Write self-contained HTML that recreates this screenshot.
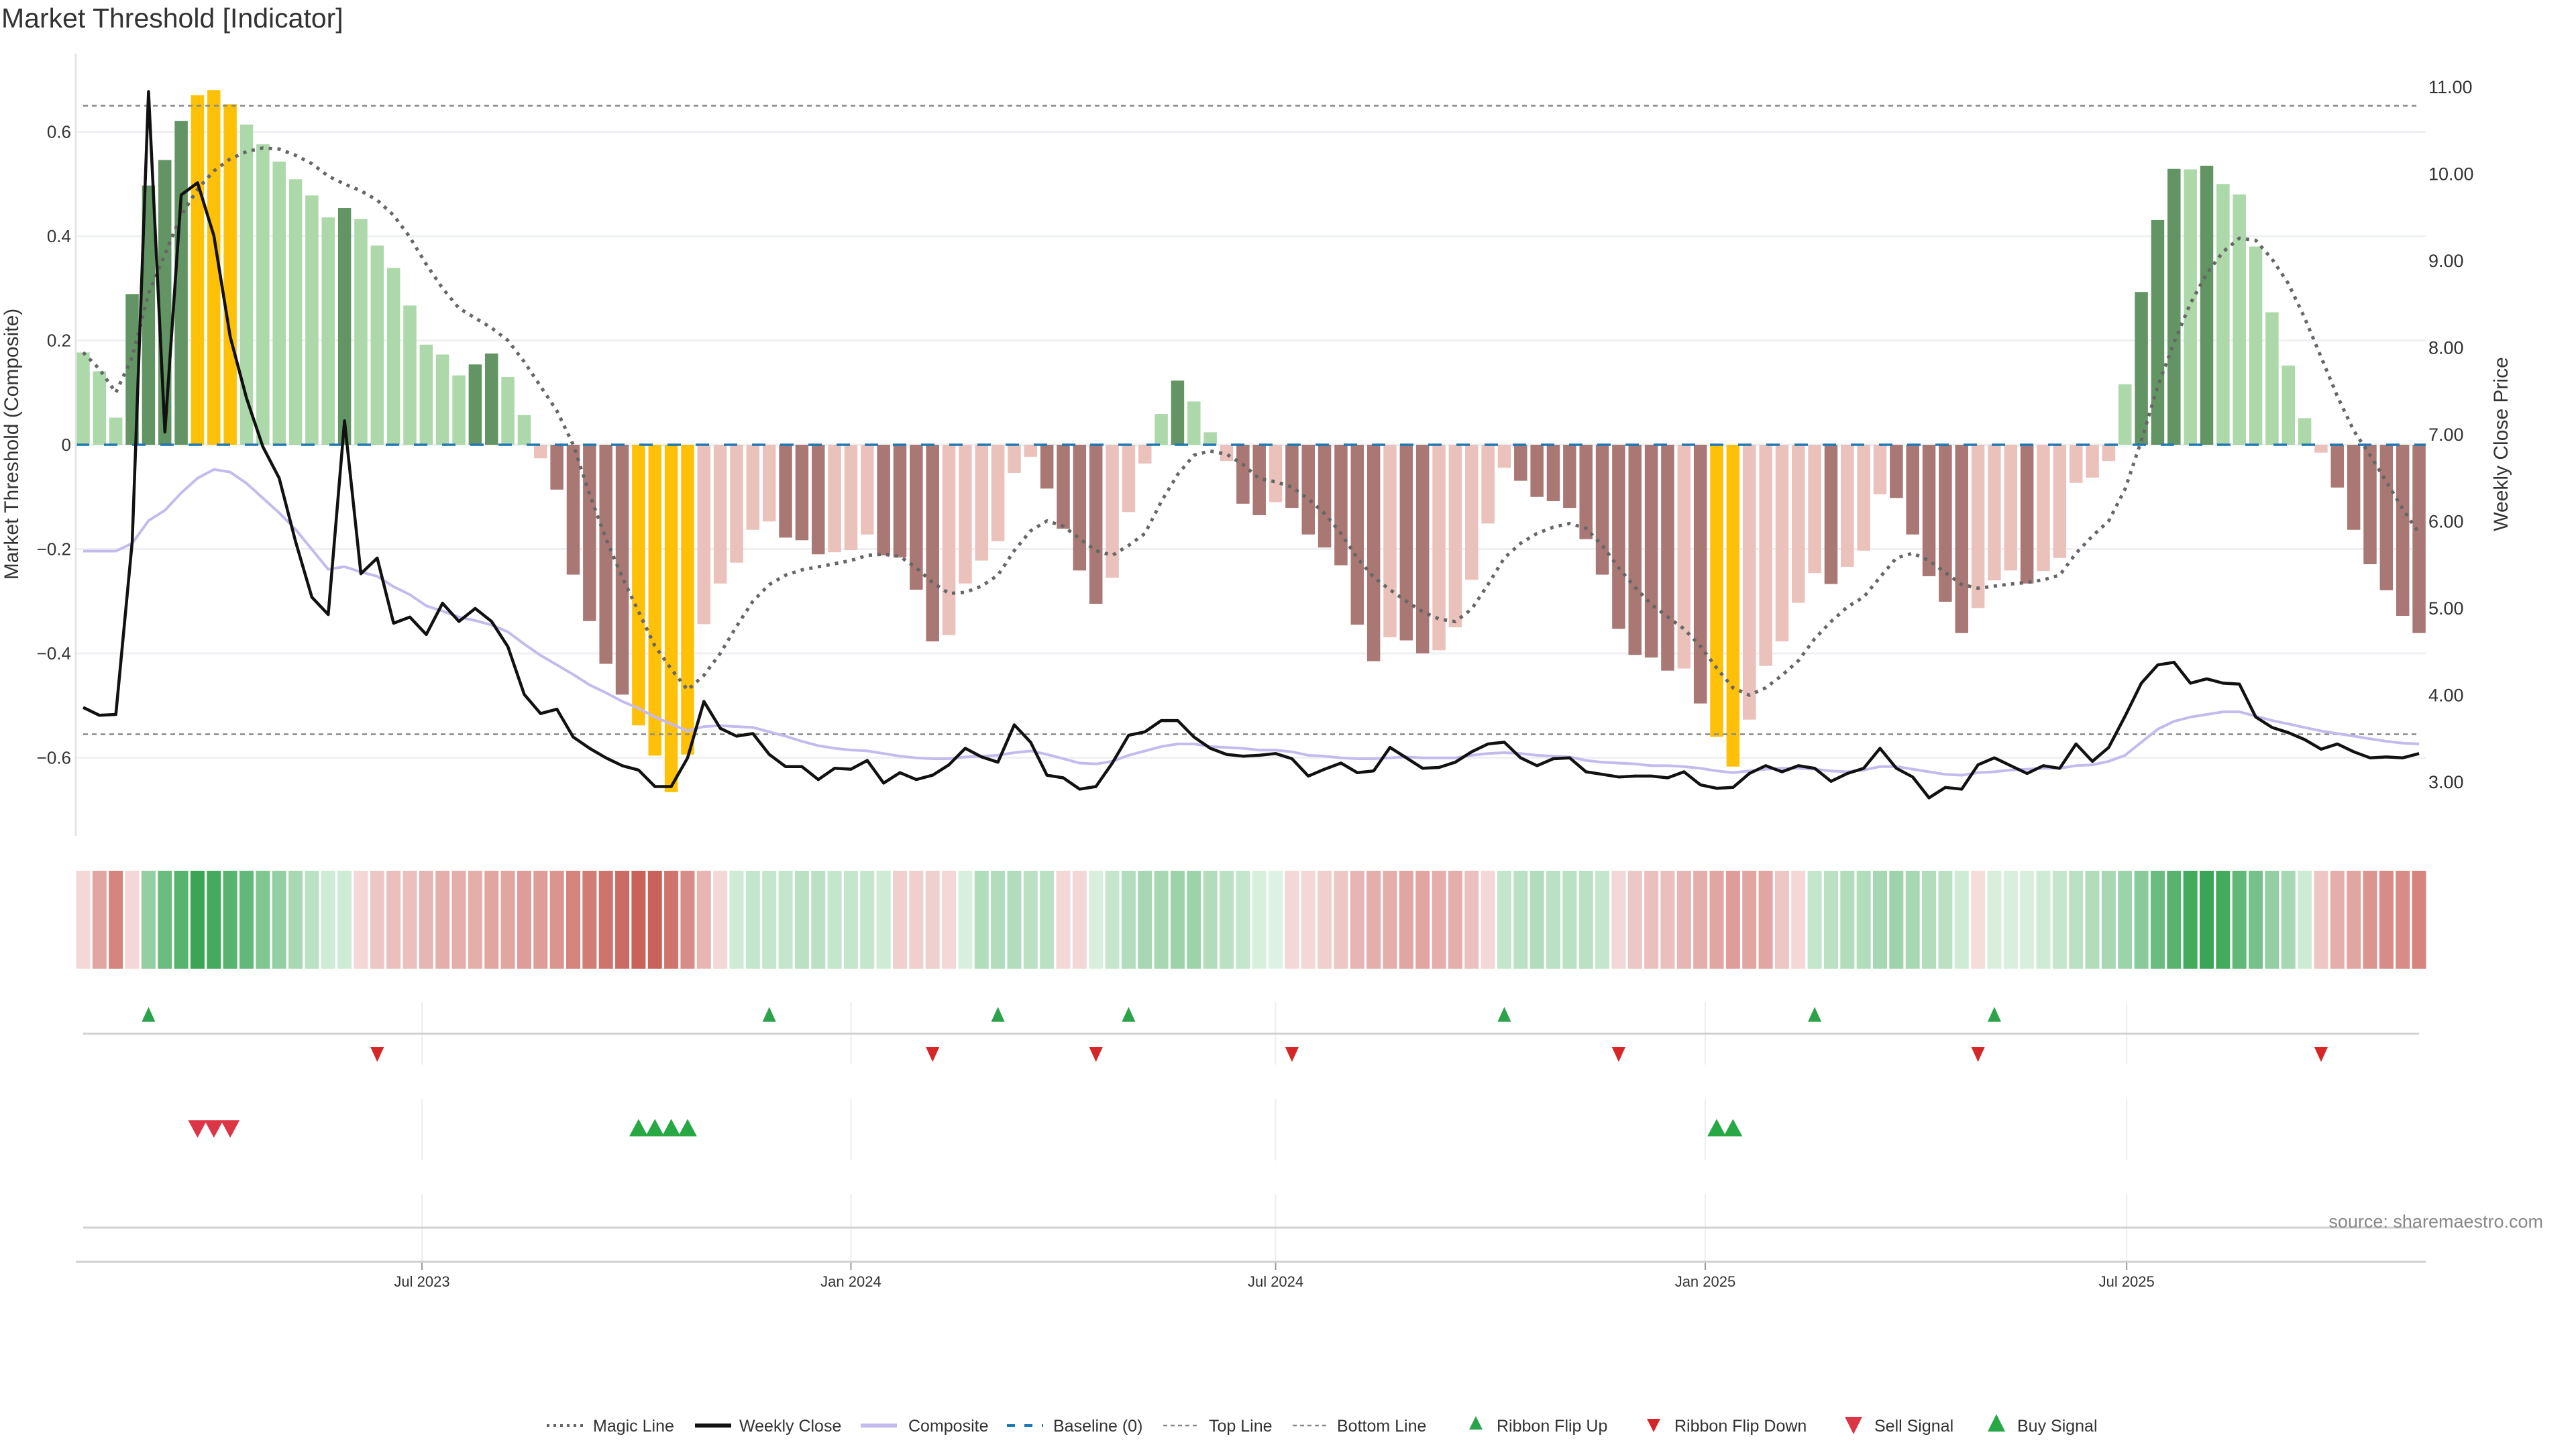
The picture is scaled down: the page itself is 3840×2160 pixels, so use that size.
<!DOCTYPE html>
<html><head><meta charset="utf-8"><style>
html,body{margin:0;padding:0;background:#fff;}
svg{display:block;font-family:"Liberation Sans","DejaVu Sans",sans-serif;}
</style></head><body>
<svg id="chart" width="3840" height="2160" viewBox="0 0 3840 2160" xmlns="http://www.w3.org/2000/svg">
<text x="2" y="41" font-size="41" fill="#333">Market Threshold [Indicator]</text>
<g id="grid"></g><g id="bars"></g><g id="lines"></g><g id="heat"></g><g id="signals"></g><g id="axes"></g><g id="legend"></g>
</svg>
<script>
const composite=[0.177,0.141,0.052,0.289,0.497,0.546,0.621,0.670,0.680,0.653,0.614,0.576,0.543,0.509,0.478,0.436,0.454,0.433,0.382,0.339,0.267,0.192,0.173,0.133,0.154,0.175,0.130,0.057,
-0.026,-0.086,-0.249,-0.338,-0.420,-0.479,-0.538,-0.596,-0.666,-0.594,-0.344,-0.266,-0.226,-0.163,-0.147,-0.178,-0.183,-0.210,-0.206,-0.202,-0.172,-0.212,-0.216,-0.278,-0.377,-0.365,-0.266,-0.222,-0.185,-0.054,-0.023,-0.084,-0.161,-0.241,-0.305,-0.255,-0.129,-0.036,0.059,0.123,0.083,0.024,-0.031,-0.113,-0.135,
-0.110,-0.121,-0.172,-0.197,-0.231,-0.345,-0.415,-0.369,-0.375,-0.400,-0.394,-0.350,-0.259,-0.151,-0.044,-0.069,-0.100,-0.108,-0.121,-0.181,-0.249,-0.353,-0.403,-0.408,-0.433,-0.429,-0.496,-0.560,-0.617,-0.527,-0.424,-0.377,-0.303,-0.246,-0.267,-0.234,
-0.203,-0.095,-0.102,-0.172,-0.252,-0.301,-0.361,-0.313,-0.260,-0.241,-0.266,-0.242,-0.217,-0.073,-0.063,-0.031,0.116,0.293,0.431,0.529,0.528,0.535,0.500,0.480,0.380,0.254,0.152,0.051,-0.015,-0.082,-0.163,-0.229,-0.279,-0.328,-0.361];
// 0 = light, 1 = strong, 2 = extreme
const strength=[0,0,0,1,1,1,1,2,2,2,0,0,0,0,0,0,1,0,0,0,0,0,0,0,1,1,0,0,
0,1,1,1,1,1,2,2,2,2,0,0,0,0,0,1,1,1,0,0,0,1,1,1,1,0,0,0,0,0,0,1,1,1,1,0,0,0,0,1,0,0,0,1,1,
0,1,1,1,1,1,1,0,1,1,0,0,0,0,0,1,1,1,1,1,1,1,1,1,1,0,1,2,2,0,0,0,0,0,1,0,
0,0,1,1,1,1,1,0,0,0,1,0,0,0,0,0,0,1,1,1,0,1,0,0,0,0,0,0,0,1,1,1,1,1,1];
const weeklyClose=[3.86,3.77,3.78,5.77,10.95,7.03,9.76,9.90,9.29,8.13,7.42,6.86,6.50,5.77,5.13,4.93,7.16,5.40,5.58,4.83,4.90,4.70,5.06,4.85,5.00,4.85,4.56,4.01,3.79,3.84,3.52,3.39,3.28,3.19,3.14,2.95,2.95,
3.28,3.93,3.62,3.53,3.56,3.32,3.18,3.18,3.03,3.16,3.15,3.25,2.99,3.11,3.03,3.08,3.20,3.39,3.29,3.23,3.66,3.46,3.08,3.05,2.92,2.95,3.22,3.54,3.58,3.71,3.71,3.52,3.39,3.32,3.30,3.31,
3.33,3.27,3.07,3.15,3.22,3.11,3.13,3.40,3.28,3.16,3.17,3.23,3.35,3.44,3.46,3.28,3.19,3.27,3.28,3.12,3.09,3.06,3.07,3.07,3.05,3.12,2.97,2.93,2.94,3.10,3.19,3.12,3.19,3.16,3.01,3.10,
3.16,3.39,3.16,3.06,2.82,2.94,2.92,3.20,3.28,3.19,3.10,3.19,3.16,3.44,3.24,3.40,3.76,4.14,4.35,4.38,4.14,4.19,4.14,4.13,3.75,3.63,3.57,3.49,3.38,3.44,3.35,3.28,3.29,3.28,3.33];
const compositeLine=[5.66,5.66,5.66,5.75,6.01,6.13,6.33,6.50,6.60,6.57,6.44,6.27,6.10,5.91,5.68,5.45,5.48,5.42,5.37,5.25,5.16,5.03,4.97,4.90,4.86,4.81,4.73,4.59,4.46,4.35,4.24,4.12,4.03,3.93,3.85,3.75,3.67,
3.59,3.64,3.65,3.64,3.63,3.58,3.53,3.47,3.42,3.39,3.37,3.36,3.33,3.30,3.28,3.27,3.27,3.29,3.30,3.31,3.34,3.36,3.32,3.27,3.22,3.21,3.24,3.31,3.36,3.41,3.44,3.44,3.41,3.40,3.39,3.37,
3.37,3.35,3.31,3.30,3.28,3.27,3.27,3.28,3.29,3.28,3.28,3.28,3.31,3.33,3.34,3.33,3.31,3.30,3.29,3.25,3.23,3.22,3.21,3.19,3.19,3.18,3.16,3.13,3.11,3.13,3.15,3.16,3.16,3.15,3.13,3.12,
3.14,3.18,3.18,3.15,3.12,3.09,3.08,3.11,3.12,3.14,3.15,3.16,3.16,3.19,3.20,3.24,3.31,3.46,3.61,3.70,3.75,3.78,3.81,3.81,3.76,3.71,3.67,3.63,3.59,3.56,3.53,3.50,3.47,3.45,3.44];
const magicLine=[0.177,0.145,0.10,0.168,0.29,0.365,0.44,0.49,0.525,0.548,0.562,0.569,0.567,0.555,0.539,0.515,0.50,0.487,0.469,0.44,0.398,0.346,0.30,0.262,0.243,0.224,0.20,0.159,0.112,0.065,0.0,-0.095,-0.18,-0.254,-0.32,-0.386,-0.43,
-0.47,-0.442,-0.40,-0.348,-0.30,-0.268,-0.25,-0.24,-0.234,-0.228,-0.222,-0.212,-0.21,-0.214,-0.236,-0.264,-0.285,-0.283,-0.271,-0.25,-0.203,-0.165,-0.146,-0.156,-0.18,-0.203,-0.212,-0.193,-0.17,-0.109,-0.057,-0.02,-0.012,-0.018,-0.038,-0.065,
-0.071,-0.081,-0.104,-0.132,-0.17,-0.217,-0.254,-0.278,-0.30,-0.32,-0.334,-0.339,-0.315,-0.268,-0.217,-0.189,-0.17,-0.158,-0.151,-0.16,-0.193,-0.236,-0.273,-0.306,-0.33,-0.353,-0.386,-0.428,-0.466,-0.48,-0.466,-0.442,-0.414,-0.372,-0.339,-0.311,
-0.292,-0.254,-0.217,-0.208,-0.222,-0.245,-0.268,-0.275,-0.271,-0.267,-0.264,-0.259,-0.25,-0.208,-0.175,-0.146,-0.085,0.008,0.112,0.196,0.271,0.328,0.37,0.396,0.392,0.356,0.309,0.243,0.168,0.093,0.027,-0.02,-0.071,-0.123,-0.17];
const ribbon=[-0.15,-0.45,-0.65,-0.15,0.5,0.7,0.8,0.95,0.9,0.8,0.75,0.6,0.5,0.4,0.3,0.2,0.2,-0.15,-0.25,-0.3,-0.3,-0.35,-0.4,-0.4,-0.4,-0.45,-0.45,-0.5,-0.5,-0.55,-0.65,-0.7,-0.75,-0.8,-0.85,-0.85,-0.75,-0.6,-0.35,-0.15,0.2,0.25,0.25,0.25,0.3,0.3,0.25,0.25,0.25,0.2,-0.2,-0.2,-0.2,-0.15,0.15,0.35,0.35,0.35,0.3,0.3,-0.15,-0.15,0.15,0.25,0.35,0.4,0.4,0.45,0.45,0.35,0.3,
0.25,0.15,0.12,-0.15,-0.15,-0.2,-0.25,-0.35,-0.4,-0.4,-0.45,-0.45,-0.4,-0.4,-0.3,-0.15,0.25,0.3,0.35,0.3,0.3,0.3,0.25,-0.15,-0.25,-0.3,-0.3,-0.35,-0.4,-0.45,-0.5,-0.45,-0.45,-0.25,-0.15,0.25,0.3,0.35,0.35,0.4,0.45,0.4,0.35,0.3,0.2,-0.12,0.15,0.15,0.15,0.2,0.25,0.3,0.35,0.4,0.45,0.55,0.7,0.8,0.9,0.95,0.9,0.75,0.65,0.5,0.4,0.2,-0.25,-0.4,-0.45,-0.55,-0.6,-0.6,-0.65];
const flipUp=[4,42,56,64,87,106,117];
const flipDown=[18,52,62,74,94,116,137];
const sellSignals=[7,8,9];
const buySignals=[34,35,36,37,100,101];
const topLine=0.65, bottomLine=-0.555;
const leftTicks=[0.6,0.4,0.2,0,-0.2,-0.4,-0.6];
const rightTicks=[11,10,9,8,7,6,5,4,3];
const dateTickLabels=["Jul 2023","Jan 2024","Jul 2024","Jan 2025","Jul 2025"];
const dateTickWeeks=[20.74,47.0,73.0,99.3,125.1];

const NS="http://www.w3.org/2000/svg";
const X0=124, DX=24.35, PL=113, PR=3616;
const xs=i=>X0+i*DX;
const yc=v=>663-v*777.5;
const yp=p=>648+(7-p)*129.5;
function el(tag,attrs,parent,text){const e=document.createElementNS(NS,tag);for(const k in attrs)e.setAttribute(k,attrs[k]);if(text!==undefined)e.textContent=text;document.getElementById(parent).appendChild(e);return e;}
function mix(a,b,t){const p=h=>[1,3,5].map(j=>parseInt(h.substr(j,2),16));const A=p(a),B=p(b);return 'rgb('+A.map((v,k)=>Math.round(v+(B[k]-v)*t)).join(',')+')';}

leftTicks.forEach(t=>{
  const g=el('line',{x1:PL,x2:PR,y1:yc(t),y2:yc(t),stroke:'#eef0f3','stroke-width':3},'grid');
  
  
  const l=el('text',{x:106,y:yc(t)+9,'font-size':26,'text-anchor':'end',fill:'#333'},'axes',t===0?'0':(t<0?'\u2212':'')+Math.abs(t).toFixed(1));
  
  
});
rightTicks.forEach(t=>{
  const l=el('text',{x:3620,y:yp(t)+9,'font-size':27,fill:'#333'},'axes',t.toFixed(2));
  
  
});
const la=el('line',{x1:PL,x2:PL,y1:80,y2:1246,stroke:'#e4e4e4','stroke-width':3},'axes');


const lt=el('text',{x:0,y:0,'font-size':30,fill:'#333','text-anchor':'middle',transform:'translate(27,662) rotate(-90)'},'axes','Market Threshold (Composite)');


const rt=el('text',{x:0,y:0,'font-size':30,fill:'#333','text-anchor':'middle',transform:'translate(3738,662) rotate(-90)'},'axes','Weekly Close Price');



const pos=['#acd8aa','#629563','#ffc107'], neg=['#ebc1bc','#a97874','#ffc107'];
composite.forEach((v,i)=>{
  const y0=yc(0), y1=yc(v);
  const b=el('rect',{x:xs(i)-9.75,width:19.5,y:Math.min(y0,y1),height:Math.max(1,Math.abs(y1-y0)),fill:(v>=0?pos:neg)[strength[i]]},'bars');
  
  
});
const bl=el('line',{x1:PL,x2:PR,y1:yc(0),y2:yc(0),stroke:'#1f77b4','stroke-width':3.5,'stroke-dasharray':'20 22'},'lines');


const tl=el('line',{x1:124,x2:3606,y1:yc(topLine),y2:yc(topLine),stroke:'#888','stroke-width':2.5,'stroke-dasharray':'7 6'},'lines');


const btl=el('line',{x1:124,x2:3606,y1:yc(bottomLine),y2:yc(bottomLine),stroke:'#888','stroke-width':2.5,'stroke-dasharray':'7 6'},'lines');


const pts=(arr,f)=>arr.map((v,i)=>xs(i).toFixed(1)+','+f(v).toFixed(1)).join(' ');
const cl=el('polyline',{points:pts(compositeLine,yp),fill:'none',stroke:'#c3bbee','stroke-width':4},'lines');


const ml=el('polyline',{points:pts(magicLine,yc),fill:'none',stroke:'#666','stroke-width':5,'stroke-dasharray':'5 8'},'lines');


const wl=el('polyline',{points:pts(weeklyClose,yp),fill:'none',stroke:'#111','stroke-width':4.5,'stroke-linejoin':'round'},'lines');



ribbon.forEach((v,i)=>{
  const t=Math.min(1,Math.abs(v));
  const c=v>=0?mix('#e2f4e6','#3aa556',(t-0.1)/0.85):mix('#f6e0e0','#c65a52',(t-0.1)/0.8);
  const r=el('rect',{x:xs(i)-10.5,width:21,y:1298,height:146,fill:c},'heat');
  
  
});

dateTickWeeks.forEach((w,k)=>{
  [[1494,1587],[1638,1730],[1780,1881]].forEach(s=>{
    const g=el('line',{x1:xs(w),x2:xs(w),y1:s[0],y2:s[1],stroke:'#eeeeee','stroke-width':2},'grid');
    
    
  });
  const tk=el('line',{x1:xs(w),x2:xs(w),y1:1881,y2:1893,stroke:'#999','stroke-width':2},'axes');
  
  
  const tx=el('text',{x:xs(w),y:1918,'font-size':22,'text-anchor':'middle',fill:'#333'},'axes',dateTickLabels[k]);
  
  
});
[1541,1830].forEach(y=>{
  const s=el('line',{x1:124,x2:3606,y1:y,y2:y,stroke:'#d0d0d0','stroke-width':3},'grid');
  
  
});
const xa=el('line',{x1:PL,x2:PR,y1:1881,y2:1881,stroke:'#d0d0d0','stroke-width':3},'axes');



function tri(cx,cy,w,h,up,fill,name){
  const p=up?[[cx-w/2,cy+h/2],[cx+w/2,cy+h/2],[cx,cy-h/2]]:[[cx-w/2,cy-h/2],[cx+w/2,cy-h/2],[cx,cy+h/2]];
  const t=el('polygon',{points:p.map(q=>q.join(',')).join(' '),fill:fill},'signals');
  
  
}
flipUp.forEach(i=>tri(xs(i),1512,20,22,true,'#2ca24a','ribbon-flip-up'));
flipDown.forEach(i=>tri(xs(i),1572,20,22,false,'#d62728','ribbon-flip-down'));
sellSignals.forEach(i=>tri(xs(i),1683,28,26,false,'#dc3545','sell-signal'));
buySignals.forEach(i=>tri(xs(i),1681,28,26,true,'#28a745','buy-signal'));

const src=el('text',{x:3791,y:1830,'font-size':27,'text-anchor':'end',fill:'#888'},'axes','source: sharemaestro.com');



const LY=2125;
const legendItems=[
 {name:'legend-magic-line',t:'Magic Line',tx:884,mk:['line',815,'#666',4,'4 6']},
 {name:'legend-weekly-close',t:'Weekly Close',tx:1102,mk:['line',1036,'#111',6,'']},
 {name:'legend-composite',t:'Composite',tx:1354,mk:['line',1283,'#c3bbee',6,'']},
 {name:'legend-baseline',t:'Baseline (0)',tx:1570,mk:['line',1501,'#1f77b4',4,'12 14']},
 {name:'legend-top-line',t:'Top Line',tx:1802,mk:['line',1734,'#888',2.5,'6 5']},
 {name:'legend-bottom-line',t:'Bottom Line',tx:1993,mk:['line',1927,'#888',2.5,'6 5']},
 {name:'legend-ribbon-flip-up',t:'Ribbon Flip Up',tx:2231,mk:['up',2200,'#2ca24a',20]},
 {name:'legend-ribbon-flip-down',t:'Ribbon Flip Down',tx:2496,mk:['down',2465,'#d62728',20]},
 {name:'legend-sell-signal',t:'Sell Signal',tx:2794,mk:['down',2763,'#dc3545',26]},
 {name:'legend-buy-signal',t:'Buy Signal',tx:3007,mk:['up',2976,'#28a745',26]}];
legendItems.forEach(it=>{
  const m=it.mk;
  if(m[0]==='line'){
    const l=el('line',{x1:m[1],x2:m[1]+54,y1:LY,y2:LY,stroke:m[2],'stroke-width':m[3],'stroke-dasharray':m[4]},'legend');
    
    
  } else {
    const w=m[3],h=m[3];
    const p=m[0]==='up'?[[m[1]-w/2,LY+h/2-4],[m[1]+w/2,LY+h/2-4],[m[1],LY-h/2-4]]:[[m[1]-w/2,LY-h/2],[m[1]+w/2,LY-h/2],[m[1],LY+h/2]];
    const t=el('polygon',{points:p.map(q=>q.join(',')).join(' '),fill:m[2]},'legend');
    
    
  }
  const tx=el('text',{x:it.tx,y:LY+9,'font-size':25,fill:'#333'},'legend',it.t);
  
  
});
</script>
</body></html>
